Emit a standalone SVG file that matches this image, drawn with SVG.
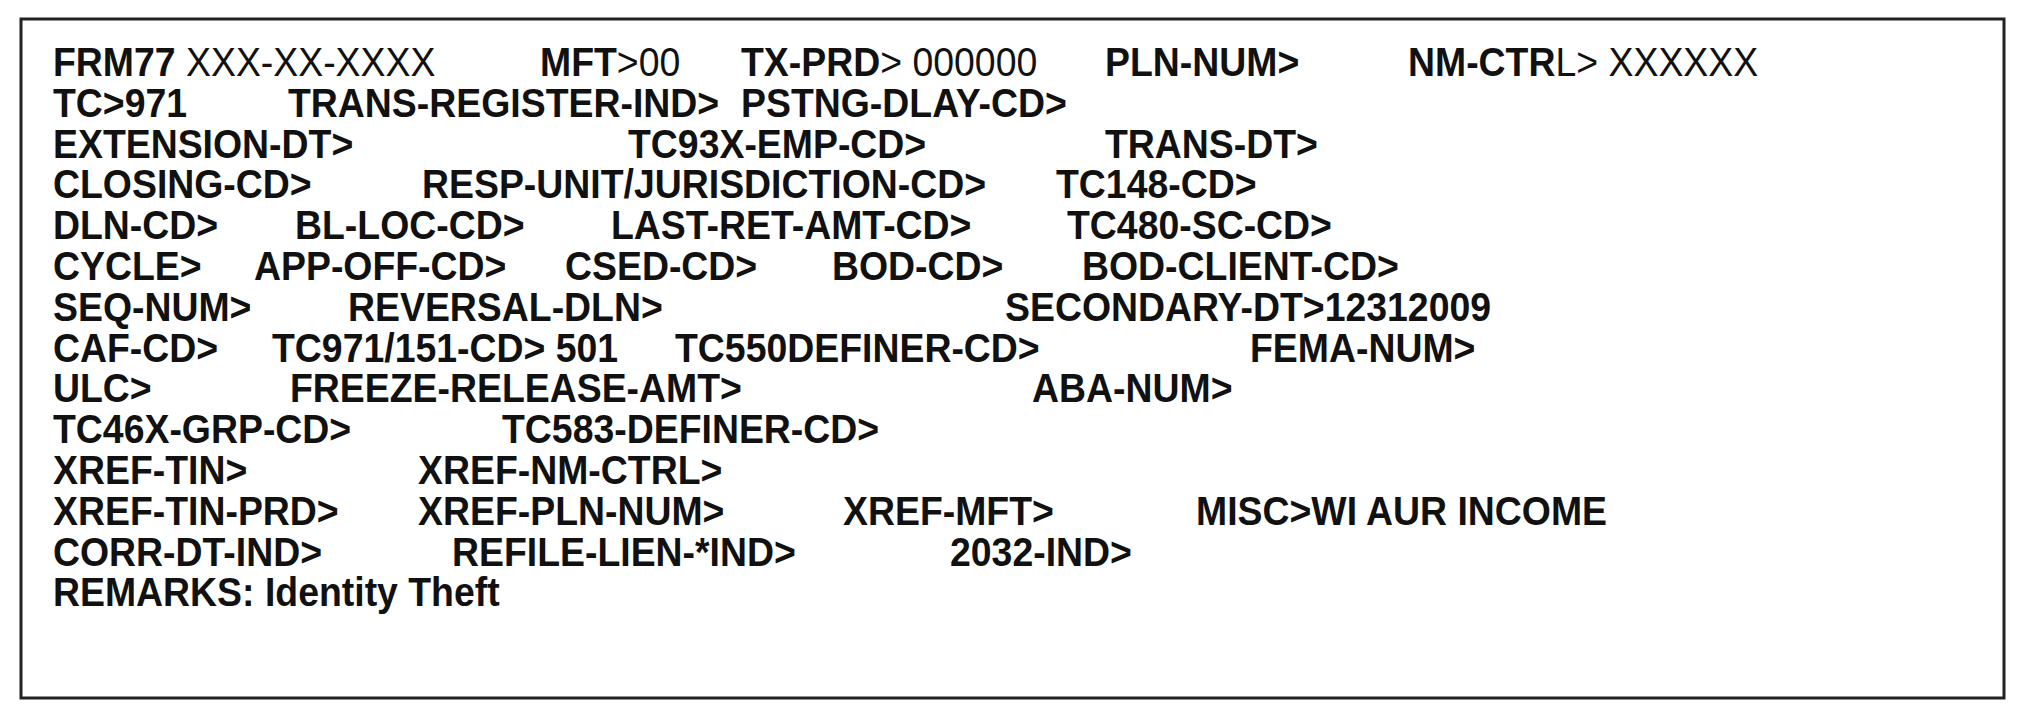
<svg xmlns="http://www.w3.org/2000/svg" width="2025" height="713" viewBox="0 0 2025 713">
<style>
text{font-family:"Liberation Sans",Arial,sans-serif;font-size:40px;fill:#111}
.b{font-weight:bold}
.r{font-weight:normal}
.frame{fill:#fff;stroke:#222;stroke-width:3}
</style>
<rect width="2025" height="713" fill="#fff"/>
<g id="frame"><rect class="frame" x="21" y="19" width="1983" height="679"/></g>
<g id="row1">
<text transform="translate(53 76) scale(.935 1)"><tspan class="b">FRM77</tspan><tspan class="r"> XXX-XX-XXXX</tspan></text>
<text transform="translate(540 76) scale(.935 1)"><tspan class="b">MFT</tspan><tspan class="r">&gt;00</tspan></text>
<text transform="translate(741 76) scale(.935 1)"><tspan class="b">TX-PRD</tspan><tspan class="r">&gt; 000000</tspan></text>
<text class="b" transform="translate(1105 76) scale(.935 1)">PLN-NUM&gt;</text>
<text transform="translate(1408 76) scale(.935 1)"><tspan class="b">NM-CTR</tspan><tspan class="r">L&gt; XXXXXX</tspan></text>
</g>
<g id="row2">
<text class="b" transform="translate(53 116.8) scale(.935 1)">TC&gt;971</text>
<text class="b" transform="translate(288 116.8) scale(.935 1)">TRANS-REGISTER-IND&gt;</text>
<text class="b" transform="translate(741 116.8) scale(.935 1)">PSTNG-DLAY-CD&gt;</text>
</g>
<g id="row3">
<text class="b" transform="translate(53 157.6) scale(.935 1)">EXTENSION-DT&gt;</text>
<text class="b" transform="translate(628 157.6) scale(.935 1)">TC93X-EMP-CD&gt;</text>
<text class="b" transform="translate(1105 157.6) scale(.935 1)">TRANS-DT&gt;</text>
</g>
<g id="row4">
<text class="b" transform="translate(53 198.4) scale(.935 1)">CLOSING-CD&gt;</text>
<text class="b" transform="translate(422 198.4) scale(.935 1)">RESP-UNIT/JURISDICTION-CD&gt;</text>
<text class="b" transform="translate(1056 198.4) scale(.935 1)">TC148-CD&gt;</text>
</g>
<g id="row5">
<text class="b" transform="translate(53 239.2) scale(.935 1)">DLN-CD&gt;</text>
<text class="b" transform="translate(295 239.2) scale(.935 1)">BL-LOC-CD&gt;</text>
<text class="b" transform="translate(611 239.2) scale(.935 1)">LAST-RET-AMT-CD&gt;</text>
<text class="b" transform="translate(1067 239.2) scale(.935 1)">TC480-SC-CD&gt;</text>
</g>
<g id="row6">
<text class="b" transform="translate(53 280) scale(.935 1)">CYCLE&gt;</text>
<text class="b" transform="translate(254 280) scale(.935 1)">APP-OFF-CD&gt;</text>
<text class="b" transform="translate(565 280) scale(.935 1)">CSED-CD&gt;</text>
<text class="b" transform="translate(832 280) scale(.935 1)">BOD-CD&gt;</text>
<text class="b" transform="translate(1082 280) scale(.935 1)">BOD-CLIENT-CD&gt;</text>
</g>
<g id="row7">
<text class="b" transform="translate(53 320.8) scale(.935 1)">SEQ-NUM&gt;</text>
<text class="b" transform="translate(348 320.8) scale(.935 1)">REVERSAL-DLN&gt;</text>
<text class="b" transform="translate(1005 320.8) scale(.935 1)">SECONDARY-DT&gt;12312009</text>
</g>
<g id="row8">
<text class="b" transform="translate(53 361.6) scale(.935 1)">CAF-CD&gt;</text>
<text class="b" transform="translate(272 361.6) scale(.935 1)">TC971/151-CD&gt; 501</text>
<text class="b" transform="translate(675 361.6) scale(.935 1)">TC550DEFINER-CD&gt;</text>
<text class="b" transform="translate(1250 361.6) scale(.935 1)">FEMA-NUM&gt;</text>
</g>
<g id="row9">
<text class="b" transform="translate(53 402.4) scale(.935 1)">ULC&gt;</text>
<text class="b" transform="translate(290 402.4) scale(.935 1)">FREEZE-RELEASE-AMT&gt;</text>
<text class="b" transform="translate(1032 402.4) scale(.935 1)">ABA-NUM&gt;</text>
</g>
<g id="row10">
<text class="b" transform="translate(53 443.2) scale(.935 1)">TC46X-GRP-CD&gt;</text>
<text class="b" transform="translate(502 443.2) scale(.935 1)">TC583-DEFINER-CD&gt;</text>
</g>
<g id="row11">
<text class="b" transform="translate(53 484) scale(.935 1)">XREF-TIN&gt;</text>
<text class="b" transform="translate(418 484) scale(.935 1)">XREF-NM-CTRL&gt;</text>
</g>
<g id="row12">
<text class="b" transform="translate(53 524.8) scale(.935 1)">XREF-TIN-PRD&gt;</text>
<text class="b" transform="translate(418 524.8) scale(.935 1)">XREF-PLN-NUM&gt;</text>
<text class="b" transform="translate(843 524.8) scale(.935 1)">XREF-MFT&gt;</text>
<text class="b" transform="translate(1196 524.8) scale(.935 1)">MISC&gt;WI AUR INCOME</text>
</g>
<g id="row13">
<text class="b" transform="translate(53 565.6) scale(.935 1)">CORR-DT-IND&gt;</text>
<text class="b" transform="translate(452 565.6) scale(.935 1)">REFILE-LIEN-*IND&gt;</text>
<text class="b" transform="translate(950 565.6) scale(.935 1)">2032-IND&gt;</text>
</g>
<g id="row14">
<text class="b" transform="translate(53 606.4) scale(.935 1)">REMARKS: Identity Theft</text>
</g>
</svg>
